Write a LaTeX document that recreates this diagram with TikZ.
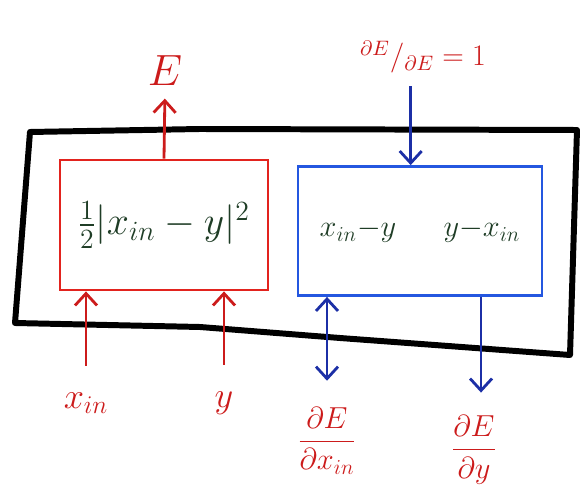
\RequirePackage{fix-cm}
\documentclass[tikz,border=0pt]{standalone}
\usepackage{amsmath}
\usepackage{xcolor}
\usepackage{tikz}
\usetikzlibrary{arrows.meta,positioning}
\definecolor{LossRed}{HTML}{E2231E}
\definecolor{LabelRed}{HTML}{CC1B1B}
\definecolor{GradBlue}{HTML}{2457E0}
\definecolor{ArrowNavy}{HTML}{1C2FA6}
\definecolor{InkGreen}{HTML}{1F3D26}

\begin{document}
\begin{tikzpicture}[
  x=0.02cm, y=-0.02cm,
  lossbox/.style={draw=LossRed, line width=1.6pt, minimum width=4.16cm, minimum height=2.6cm,
                  text=InkGreen, font=\fontsize{22.6}{26}\selectfont},
  gradbox/.style={draw=GradBlue, line width=1.6pt, minimum width=4.88cm, minimum height=2.58cm,
                  text=InkGreen, font=\fontsize{17.3}{21}\selectfont},
  lbl/.style={text=LabelRed, font=\fontsize{20.7}{24}\selectfont, inner sep=1pt},
  fwdarrow/.style={-{Straight Barb[length=2.4mm,width=4.4mm]}, line width=1.6pt, draw=LabelRed},
  bwdarrow/.style={-{Straight Barb[length=2.4mm,width=4.4mm]}, line width=1.6pt, draw=ArrowNavy}
]
\useasboundingbox (0,0) rectangle (581,489);
% the module
\draw[line width=3.4pt, line join=round] (30,132) -- (200,129) -- (577,130) -- (570,355)
  -- (340,338) -- (200,327) -- (15,323) -- cycle;
\node[lossbox] (loss) at (164,225) {$\tfrac{1}{2}\lvert x_{in}-y\rvert^{2}$};
\node[gradbox] (grad) at (420,231) {$x_{in}{-}y\hspace{27pt}y{-}x_{in}$};
% inputs and outputs
\node[lbl, font=\fontsize{24.9}{28}\selectfont] (E) at (165,71) {$E$};
\node[lbl, font=\fontsize{17}{20}\selectfont] (dEdE) at (423,57) {$^{\partial E}/_{\partial E}=1$};
\node[lbl] (xin) at (86,403) {$x_{in}$};
\node[lbl] (y) at (224,403) {$y$};
\node[lbl, font=\fontsize{17.3}{21}\selectfont] (dEdx) at (327,441) {$\dfrac{\partial E}{\partial x_{in}}$};
\node[lbl, font=\fontsize{17.3}{21}\selectfont] (dEdy) at (474,450) {$\dfrac{\partial E}{\partial y}$};
% forward
\draw[fwdarrow, shorten >=6pt] (loss.north) -- (E.south);
\draw[fwdarrow, shorten <=14pt] (xin.north) -- (xin.north |- loss.south);
\draw[fwdarrow, shorten <=14pt] (y.north) -- (y.north |- loss.south);
% backward
\draw[bwdarrow, shorten <=6pt] ([xshift=-7pt]dEdE.south) -- ([xshift=-7pt]dEdE.south |- grad.north);
\draw[bwdarrow, {Straight Barb[length=2.4mm,width=4.4mm]}-{Straight Barb[length=2.4mm,width=4.4mm]},
  shorten >=14pt] (dEdx.north |- grad.south) -- (dEdx.north);
\draw[bwdarrow, shorten >=12pt] ([xshift=4pt]dEdy.north |- grad.south) -- ([xshift=4pt]dEdy.north);
\end{tikzpicture}
\end{document}
